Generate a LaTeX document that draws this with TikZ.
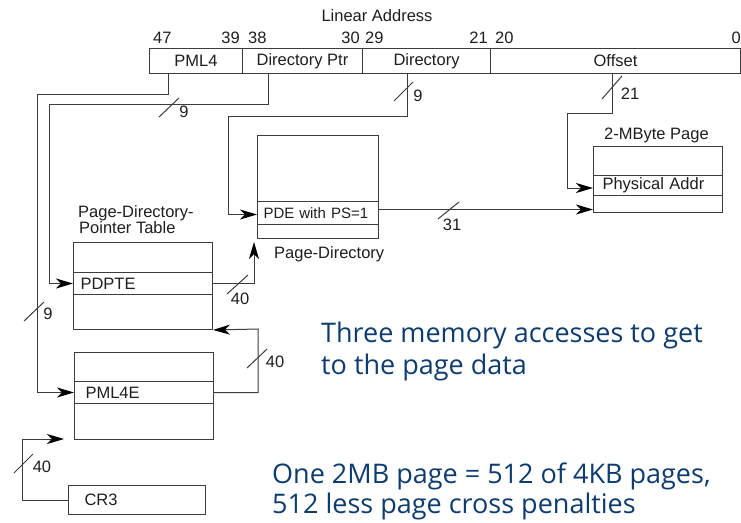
\documentclass[tikz,border=0pt]{standalone}
\usepackage{fontspec}
\setmainfont{Liberation Sans}
\newfontfamily\slidefont{Open Sans}
\usetikzlibrary{arrows.meta}
\definecolor{linegray}{RGB}{60,60,60}
\definecolor{inkblack}{RGB}{30,30,30}
\definecolor{slideblue}{RGB}{14,60,110}
\newcommand\dfont{\fontsize{16.5}{16}\selectfont}
\newcommand\sfont{\fontsize{15}{16}\selectfont}
\newcommand\bigfont{\slidefont\fontsize{27}{32}\selectfont}
\tikzset{
  wire/.style={draw=linegray, line width=1pt},
  arr/.style={wire, -{Stealth[length=17pt,width=10pt,inset=5pt,color=black]}},
  field/.style={draw=linegray, line width=1pt, anchor=north west, inner sep=0pt,
    minimum height=25pt, font=\dfont, text=inkblack},
  tablebox/.style={draw=linegray, line width=1pt, anchor=north west, inner sep=0pt},
  entry/.style={draw=linegray, line width=1pt, anchor=north west, inner ysep=0pt,
    align=left, font=\dfont, text=inkblack},
  lbl/.style={inner sep=0pt, font=\dfont, text=inkblack},
  note/.style={inner sep=0pt, anchor=base west, font=\bigfont, text=slideblue},
}
\begin{document}
\begin{tikzpicture}[x=1pt, y=-1pt]
\useasboundingbox (0,0) rectangle (741,522);

% linear address fields
\node[lbl] (title) at (377,16) {Linear Address};
\node[field, minimum width=93pt]  (pml4)   at (149,48) {PML4};
\node[field, minimum width=120pt] (dirptr) at (242,48) {Directory Ptr};
\node[field, minimum width=128pt] (dir)    at (362,48) {Directory};
\node[field, minimum width=250pt] (off)    at (490,48) {Offset};

% bit positions
\node[lbl, anchor=base west] (b47) at (153,43) {47};
\node[lbl, anchor=base east] (b39) at (240,43) {39};
\node[lbl, anchor=base west] (b38) at (248,43) {38};
\node[lbl, anchor=base east] (b30) at (360,43) {30};
\node[lbl, anchor=base west] (b29) at (365,43) {29};
\node[lbl, anchor=base east] (b21) at (488,43) {21};
\node[lbl, anchor=base west] (b20) at (495,43) {20};
\node[lbl, anchor=base east] (b0)  at (741,43) {0};

% page directory
\node[tablebox, minimum width=121pt, minimum height=103pt] (pd) at (257,135) {};
\node[entry, font=\sfont, inner xsep=6pt, text width=109pt, minimum height=23pt] (pde) at (257,201) {PDE with PS=1};
\node[lbl, anchor=base west] (pdname) at (274,258) {Page-Directory};

% 2-MByte page
\node[tablebox, minimum width=129pt, minimum height=66pt] (page2m) at (593,146) {};
\node[entry, inner xsep=9pt, text width=111pt, minimum height=20pt] (phys) at (593,175) {Physical Addr};
\node[lbl, anchor=base west] (pgname) at (604,139) {2-MByte Page};

% page-directory-pointer table
\node[tablebox, minimum width=139pt, minimum height=87pt] (pdpt) at (73,242) {};
\node[entry, inner xsep=7pt, text width=125pt, minimum height=22pt] (pdpte) at (73,272) {PDPTE};
\node[lbl, anchor=base west] (pdptname1) at (78,217) {Page-Directory-};
\node[lbl, anchor=base west] (pdptname2) at (79,233) {Pointer Table};

% PML4 table
\node[tablebox, minimum width=139pt, minimum height=87pt] (pml4t) at (74,352) {};
\node[entry, inner xsep=11pt, text width=117pt, minimum height=22pt] (pml4e) at (74,381) {PML4E};

% CR3
\node[entry, inner xsep=16pt, text width=105pt, minimum height=29pt] (cr3) at (68,485) {CR3};

% connectors
\draw[arr] ([xshift=19pt]pml4.south west) |- (37,94) |- (pml4e.west);
\draw[arr] ([xshift=26pt]dirptr.south west) |- (49,104) |- (pdpte.west);
\draw[arr] ([xshift=45pt]dir.south west) |- (228,116) |- ([yshift=-1.5pt]pde.west);
\draw[arr] ([xshift=122pt]off.south west) |- (567,113) |- ([yshift=-2.5pt]phys.west);
\draw[arr] ([yshift=3.5pt]pde.east) -- ([yshift=3.5pt]pde.east -| page2m.west);
\coordinate (pdin) at (254,242);
\draw[arr] (pdpte.east) -| (pdin);
\draw[arr] (pml4e.east) -| (258,329) -- (pdpt.south east);
\coordinate (pml4in) at (64,439);
\draw[arr] (cr3.west) -| (22,439) -- (pml4in);

% bus widths
\draw[wire] (159,117) -- (179,98);
\node[lbl] (w9a) at (184,112) {9};
\draw[wire] (24,321) -- (44,302);
\node[lbl] (w9b) at (48,314) {9};
\draw[wire] (394,101) -- (413,82);
\node[lbl] (w9c) at (418,96) {9};
\draw[wire] (602,99) -- (622,76);
\node[lbl] (w21) at (630,94) {21};
\draw[wire] (438,219) -- (459,202);
\node[lbl] (w31) at (452,225) {31};
\draw[wire] (227,294) -- (248,275);
\node[lbl] (w40a) at (240,299) {40};
\draw[wire] (247,368) -- (267,349);
\node[lbl] (w40b) at (275,362) {40};
\draw[wire] (14,473) -- (33,454);
\node[lbl] (w40c) at (42,467) {40};

% notes
\node[note] (n1a) at (321,342) {Three memory accesses to get};
\node[note] (n1b) at (321,374) {to the page data};
\node[note] (n2a) at (272,483) {One 2MB page = 512 of 4KB pages,};
\node[note] (n2b) at (272,513) {512 less page cross penalties};
\end{tikzpicture}
\end{document}
